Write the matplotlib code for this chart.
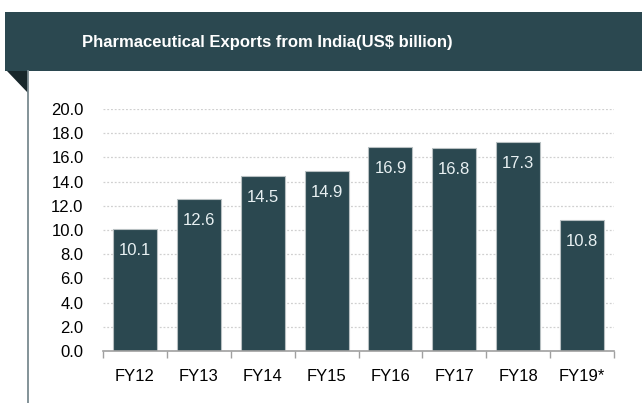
import matplotlib
matplotlib.use("Agg")
import matplotlib.pyplot as plt
from matplotlib.patches import Rectangle, Polygon
from matplotlib.lines import Line2D

categories = ["FY12", "FY13", "FY14", "FY15", "FY16", "FY17", "FY18", "FY19*"]
values = [10.1, 12.6, 14.5, 14.9, 16.9, 16.8, 17.3, 10.8]
title = "Pharmaceutical Exports from India(US$ billion)"

W, H = 642, 403
fig = plt.figure(figsize=(W / 100, H / 100), dpi=100)
plt.rcParams['font.family'] = ['Liberation Sans', 'DejaVu Sans']

def fx(px):
    return px / W

def fy(py):
    return 1 - py / H

dark = "#2B4850"
# banner
fig.patches.append(Rectangle((fx(5), fy(71)), 1 - fx(5), fy(12) - fy(71),
                             transform=fig.transFigure, facecolor=dark, edgecolor='none'))
fig.patches.append(Polygon([(fx(7), fy(71)), (fx(28), fy(71)), (fx(28), fy(93))],
                           closed=True, transform=fig.transFigure, facecolor="#18272B", edgecolor='none'))
fig.lines.append(Line2D([fx(28), fx(28)], [fy(71), 0], transform=fig.transFigure,
                        color="#7A8A90", linewidth=1.3))
fig.text(fx(267.5), fy(42), title, color="white", fontsize=12, fontweight='bold',
         ha='center', va='center')

ax = fig.add_axes([fx(103), fy(351), fx(614) - fx(103), fy(109) - fy(351)])
x = range(len(categories))
bars = ax.bar(x, values, width=0.69, color=dark, edgecolor="#B8C0C2", linewidth=0.8, zorder=3)
for xi, v in zip(x, values):
    ax.annotate(f"{v:.1f}", (xi, v), xytext=(0, -15.5), textcoords='offset points',
                ha='center', va='center', color="#E8F0F2", fontsize=12, zorder=4)

ax.set_xlim(-0.5, len(categories) - 0.5)
ax.set_ylim(0, 20)
ax.set_yticks(range(0, 21, 2))
ax.set_yticklabels([f"{t:.1f}" for t in range(0, 21, 2)], fontsize=12)
ax.tick_params(axis='y', length=0, pad=14)
ax.set_xticks(list(x))
ax.set_xticklabels(categories, fontsize=12)
ax.tick_params(axis='x', length=0, pad=13)
ax.set_xticks([i - 0.5 for i in range(len(categories) + 1)], minor=True)
ax.tick_params(axis='x', which='minor', length=5, color="#A0A0A0", width=1)
ax.grid(axis='y', linestyle=(0, (1.5, 1.5)), color="#D0D0D0", linewidth=0.9, zorder=0)
for s in ['top', 'right', 'left']:
    ax.spines[s].set_visible(False)
ax.spines['bottom'].set_color("#A0A0A0")
ax.spines['bottom'].set_linewidth(1.2)
ax.spines['bottom'].set_zorder(5)

fig.savefig("out.png", dpi=100)
